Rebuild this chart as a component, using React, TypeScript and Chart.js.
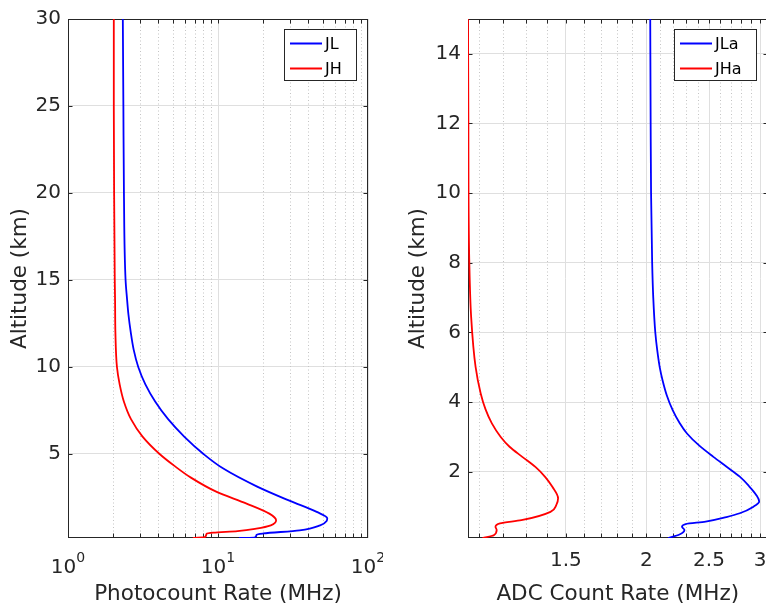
import React, { useEffect, useRef } from 'react';
import { Chart, registerables } from 'chart.js';

Chart.register(...registerables);

const FONT = "'DejaVu Sans', 'Liberation Sans', sans-serif";
const INK = '#262626';
const GRID = '#dfdfdf';
const MINOR = '#c4c4c4';

// ---------- Left panel: photon counting ----------
const jlAltitude = [0.17, 0.2, 0.37, 0.43, 0.61, 0.9, 1.15, 1.3, 1.67, 2.3, 3.14, 4.16, 5.0, 6.0, 7.0, 8.0, 9.0, 10, 11, 12, 13, 14, 15, 20, 25, 30];
const jlRate = [13.8, 17.6, 18.1, 20, 35, 48, 53, 53.5, 45.5, 30.2, 18.1, 10.85, 8.0, 5.95, 4.65, 3.82, 3.28, 2.94, 2.74, 2.62, 2.53, 2.47, 2.42, 2.36, 2.34, 2.32];
const jhAltitude = [0.17, 0.23, 0.42, 0.48, 0.57, 0.71, 0.9, 1.19, 1.57, 2.15, 2.82, 3.64, 4.3, 5.0, 6.0, 7.0, 8.0, 9.0, 10, 12, 13.8, 15, 20, 25, 30];
const jhRate = [6.8, 8.2, 8.4, 9.3, 13.5, 18, 22.5, 24.4, 22, 15.5, 9.8, 6.6, 5.15, 4.08, 3.14, 2.63, 2.36, 2.21, 2.12, 2.07, 2.06, 2.05, 2.03, 2.02, 2.02];
const photoMajorTicks = [1, 10, 100];
const photoMinorTicks = [2, 3, 4, 5, 6, 7, 8, 9, 20, 30, 40, 50, 60, 70, 80, 90];
const photoAltTicks = [5, 10, 15, 20, 25, 30];

// ---------- Right panel: analog ----------
const jlaAltitude = [0.1, 0.2, 0.33, 0.42, 0.5, 0.57, 0.7, 0.81, 1.0, 1.15, 1.33, 1.6, 1.86, 2.14, 2.43, 2.75, 3.1, 3.4, 3.77, 4.2, 4.63, 5.0, 5.5, 6.0, 7.0, 8.0, 10, 12, 15];
const jlaRate = [2.16, 2.25, 2.29, 2.27, 2.3, 2.47, 2.66, 2.79, 2.93, 2.99, 2.96, 2.88, 2.79, 2.665, 2.539, 2.415, 2.311, 2.251, 2.196, 2.15, 2.118, 2.097, 2.078, 2.064, 2.049, 2.041, 2.033, 2.03, 2.027];
const jhaAltitude = [0.1, 0.18, 0.33, 0.42, 0.52, 0.61, 0.85, 1.05, 1.24, 1.57, 1.85, 2.14, 2.43, 2.72, 3.0, 3.39, 3.8, 4.25, 5.01, 6.44, 8.0, 10, 12, 15];
const jhaRate = [1.114, 1.16, 1.172, 1.167, 1.186, 1.28, 1.42, 1.45, 1.459, 1.4295, 1.394, 1.3455, 1.284, 1.227, 1.189, 1.152, 1.126, 1.107, 1.087, 1.07, 1.063, 1.06, 1.0595, 1.058];
const adcMajorTicks = [1.5, 2, 2.5, 3];
const adcMinorTicks = [1.1, 1.2, 1.3, 1.4, 1.6, 1.7, 1.8, 1.9, 2.1, 2.2, 2.3, 2.4, 2.6, 2.7, 2.8, 2.9];
const adcAltTicks = [2, 4, 6, 8, 10, 12, 14];

interface Series { label: string; alt: number[]; rate: number[]; color: string }
interface PanelCfg {
  series: Series[];
  xMin: number; xMax: number; yMin: number; yMax: number;
  xMajor: number[]; xMinor: number[]; yTicks: number[];
  xTitle: string; yTitle: string;
  yAxisWidth: number; padRight: number; yTitlePad: number;
  powerLabels: boolean; legendGap: number;
}

const framePlugin = {
  id: 'frame',
  beforeDatasetsDraw(chart: any, _args: any, opts: any) {
    const { ctx, chartArea: a } = chart;
    const xs = chart.scales.x;
    const ys = chart.scales.y;
    const L = Math.round(a.left) + 0.5;
    const R = Math.round(a.right) - 0.5;
    const T = Math.round(a.top) + 0.5;
    const B = Math.round(a.bottom) - 0.5;
    ctx.save();
    ctx.lineWidth = 1;
    ctx.strokeStyle = MINOR;
    ctx.setLineDash([1, 2.5]);
    for (const v of opts.minor) {
      const p = Math.round(xs.getPixelForValue(v)) + 0.5;
      ctx.beginPath();
      ctx.moveTo(p, T);
      ctx.lineTo(p, B);
      ctx.stroke();
    }
    ctx.setLineDash([]);
    ctx.strokeStyle = INK;
    ctx.strokeRect(L, T, R - L, B - T);
    const tl = 4;
    ctx.beginPath();
    for (const v of [...opts.major, ...opts.minor]) {
      const p = Math.round(xs.getPixelForValue(v)) + 0.5;
      if (p < L - 0.1 || p > R + 0.1) continue;
      ctx.moveTo(p, B);
      ctx.lineTo(p, B - tl);
      ctx.moveTo(p, T);
      ctx.lineTo(p, T + tl);
    }
    for (const v of opts.yTicks) {
      const p = Math.round(ys.getPixelForValue(v)) + 0.5;
      ctx.moveTo(L, p);
      ctx.lineTo(L + tl, p);
      ctx.moveTo(R, p);
      ctx.lineTo(R - tl, p);
    }
    ctx.stroke();
    ctx.restore();
  },
  afterDraw(chart: any, _args: any, opts: any) {
    const { ctx, chartArea: a } = chart;
    const xs = chart.scales.x;
    ctx.save();
    if (opts.powerLabels) {
      ctx.fillStyle = INK;
      ctx.textBaseline = 'alphabetic';
      ctx.textAlign = 'left';
      for (const v of opts.major) {
        const p = xs.getPixelForValue(v);
        const base = '10';
        const exp = String(Math.round(Math.log10(v)));
        ctx.font = `20px ${FONT}`;
        const w1 = ctx.measureText(base).width;
        ctx.font = `14px ${FONT}`;
        const w2 = ctx.measureText(exp).width;
        const start = p - (w1 + w2) / 2;
        ctx.font = `20px ${FONT}`;
        ctx.fillText(base, start, 573);
        ctx.font = `14px ${FONT}`;
        ctx.fillText(exp, start + w1, 562);
      }
    }
    // legend
    const ds = chart.data.datasets;
    ctx.font = `16px ${FONT}`;
    const tw = Math.max(...ds.map((d: any) => ctx.measureText(d.label).width));
    const w = Math.round(41 + tw + 15);
    const h = 52;
    const right = Math.round(a.right - opts.legendGap);
    const left = right - w;
    const top = Math.round(a.top + 10);
    ctx.fillStyle = '#ffffff';
    ctx.fillRect(left, top, w, h);
    ctx.strokeStyle = INK;
    ctx.lineWidth = 1;
    ctx.strokeRect(left + 0.5, top + 0.5, w - 1, h - 1);
    ds.forEach((d: any, i: number) => {
      const y = top + 14.5 + i * 25;
      ctx.strokeStyle = d.borderColor;
      ctx.lineWidth = 2;
      ctx.beginPath();
      ctx.moveTo(left + 6, y);
      ctx.lineTo(left + 38, y);
      ctx.stroke();
      ctx.fillStyle = '#000000';
      ctx.textAlign = 'left';
      ctx.textBaseline = 'middle';
      ctx.fillText(d.label, left + 41, y + 1);
    });
    ctx.restore();
  },
};

function Panel({ cfg, left, width }: { cfg: PanelCfg; left: number; width: number }) {
  const ref = useRef<HTMLCanvasElement>(null);
  useEffect(() => {
    const allX = [...cfg.xMajor, ...cfg.xMinor].sort((p, q) => p - q);
    const chart = new Chart(ref.current as HTMLCanvasElement, {
      type: 'line',
      data: {
        datasets: cfg.series.map((s) => ({
          label: s.label,
          data: s.alt.map((alt, i) => ({ x: s.rate[i], y: alt })),
          borderColor: s.color,
          backgroundColor: s.color,
          borderWidth: 1.8,
          pointRadius: 0,
          fill: false,
          cubicInterpolationMode: 'monotone',
        })),
      },
      options: {
        responsive: false,
        animation: false,
        indexAxis: 'y',
        layout: { padding: { left: 0, top: 19, right: cfg.padRight, bottom: 0 } },
        plugins: {
          legend: { display: false },
          tooltip: { enabled: false },
          frame: {
            major: cfg.xMajor,
            minor: cfg.xMinor,
            yTicks: cfg.yTicks,
            powerLabels: cfg.powerLabels,
            legendGap: cfg.legendGap,
          },
        } as any,
        scales: {
          x: {
            type: 'logarithmic',
            position: 'bottom',
            min: cfg.xMin,
            max: cfg.xMax,
            afterBuildTicks: (s: any) => {
              s.ticks = allX.map((v) => ({ value: v, major: cfg.xMajor.includes(v) }));
            },
            afterFit: (s: any) => {
              s.height = 69;
              s.paddingLeft = 0;
              s.paddingRight = 0;
            },
            grid: {
              color: (c: any) => (c.tick && cfg.xMajor.includes(c.tick.value) ? GRID : 'rgba(0,0,0,0)'),
              drawTicks: false,
              lineWidth: 1,
            },
            border: { display: false },
            ticks: {
              display: !cfg.powerLabels,
              autoSkip: false,
              maxRotation: 0,
              padding: 11,
              color: INK,
              font: { family: FONT, size: 20 },
              callback: (v: any) => (cfg.xMajor.includes(Number(v)) ? String(v) : ''),
            },
            title: {
              display: true,
              text: cfg.xTitle,
              color: INK,
              font: { family: FONT, size: 21.5 },
              padding: { top: 0, bottom: 0 },
            },
          },
          y: {
            type: 'linear',
            min: cfg.yMin,
            max: cfg.yMax,
            afterBuildTicks: (s: any) => {
              s.ticks = cfg.yTicks.map((v) => ({ value: v }));
            },
            afterFit: (s: any) => {
              s.width = cfg.yAxisWidth;
              s.paddingTop = 0;
              s.paddingBottom = 0;
            },
            grid: { color: GRID, drawTicks: false, lineWidth: 1 },
            border: { display: false },
            ticks: { padding: 7, color: INK, font: { family: FONT, size: 20 } },
            title: {
              display: true,
              text: cfg.yTitle,
              color: INK,
              font: { family: FONT, size: 21.5 },
              padding: { top: cfg.yTitlePad, bottom: 0 },
            },
          },
        },
      } as any,
      plugins: [framePlugin as any],
    });
    return () => chart.destroy();
  }, []);
  return (
    <canvas
      ref={ref}
      width={width}
      height={607}
      style={{ position: 'absolute', left, top: 0, width, height: 607 }}
    />
  );
}

const leftCfg: PanelCfg = {
  series: [
    { label: 'JL', alt: jlAltitude, rate: jlRate, color: '#0000ff' },
    { label: 'JH', alt: jhAltitude, rate: jhRate, color: '#ff0000' },
  ],
  xMin: 1, xMax: 100, yMin: 0.17, yMax: 30,
  xMajor: photoMajorTicks, xMinor: photoMinorTicks, yTicks: photoAltTicks,
  xTitle: 'Photocount Rate (MHz)', yTitle: 'Altitude (km)',
  yAxisWidth: 68, padRight: 15, yTitlePad: 8,
  powerLabels: true, legendGap: 11,
};

const rightCfg: PanelCfg = {
  series: [
    { label: 'JLa', alt: jlaAltitude, rate: jlaRate, color: '#0000ff' },
    { label: 'JHa', alt: jhaAltitude, rate: jhaRate, color: '#ff0000' },
  ],
  xMin: 1.058, xMax: 3.08, yMin: 0.1, yMax: 15,
  xMajor: adcMajorTicks, xMinor: adcMinorTicks, yTicks: adcAltTicks,
  xTitle: 'ADC Count Rate (MHz)', yTitle: 'Altitude (km)',
  yAxisWidth: 85, padRight: 7.5, yTitlePad: 23,
  powerLabels: false, legendGap: 11,
};

export default function App() {
  return (
    <div
      style={{
        position: 'absolute',
        left: 0,
        top: 0,
        width: 766,
        height: 607,
        overflow: 'hidden',
        background: '#ffffff',
      }}
    >
      <Panel cfg={leftCfg} left={0} width={383} />
      <Panel cfg={rightCfg} left={383} width={392} />
    </div>
  );
}
